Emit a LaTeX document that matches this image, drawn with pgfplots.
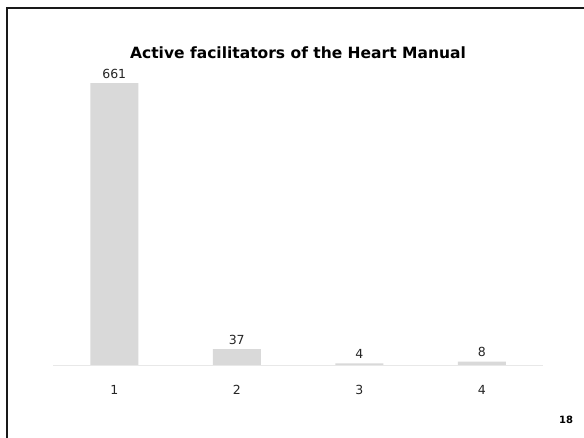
\documentclass[border=0pt]{standalone}
\usepackage{pgfplots}
\pgfplotsset{compat=1.18}
\usepackage{fontspec}
\setmainfont{DejaVu Sans}
\definecolor{barg}{HTML}{D9D9D9}
\definecolor{basel}{HTML}{E8E8E8}
\begin{document}
\begin{tikzpicture}[x=1pt,y=1pt]
\useasboundingbox (0,0) rectangle (584,438);
\fill[white] (0,0) rectangle (584,438);
\draw[line width=2.3pt,black!90] (6.8,0) -- (6.8,429.7) -- (584,429.7);
\begin{axis}[
  at={(53pt,73pt)}, anchor=south west,
  scale only axis, width=490pt, height=298.6pt,
  xmin=0.5, xmax=4.5, ymin=0, ymax=700,
  axis y line=none, axis x line*=bottom,
  x axis line style={basel, line width=0.6pt, -},
  xtick={1,2,3,4}, xticklabels={1,2,3,4},
  major tick length=0pt,
  xticklabel style={font=\fontsize{12.5}{15}\selectfont, text=black!85, anchor=center, yshift=-25pt},
  ybar, bar width=48pt,
  nodes near coords,
  every node near coord/.append style={font=\fontsize{12.5}{15}\selectfont, text=black!85, yshift=1pt},
  /pgf/number format/assume math mode=true,
  clip=false,
]
\addplot[fill=barg, draw=none] coordinates {(1,661) (2,37) (3,4) (4,8)};
\end{axis}
\node[font=\bfseries\fontsize{15.5}{18}\selectfont] at (298,385) {Active facilitators of the Heart Manual};
\node[font=\bfseries\fontsize{10}{12}\selectfont] at (566,18) {18};
\end{tikzpicture}
\end{document}
